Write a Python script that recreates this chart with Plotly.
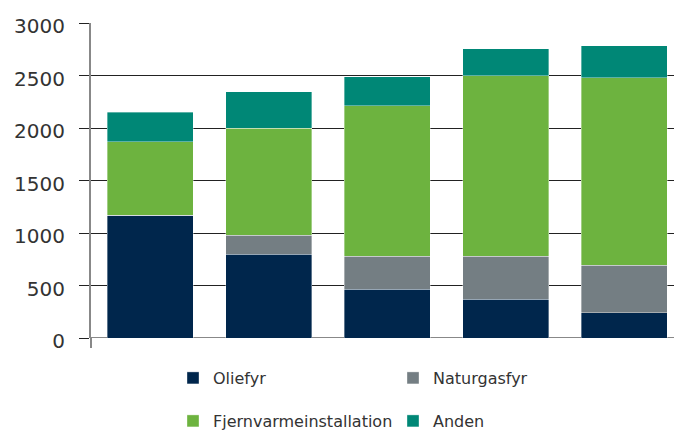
import plotly.graph_objects as go

categories = ["A", "B", "C", "D", "E"]
oliefyr = [1170, 800, 465, 370, 240]
naturgasfyr = [0, 180, 315, 410, 455]
fjernvarme = [700, 1020, 1430, 1720, 1785]
anden = [280, 345, 280, 255, 305]
yticks = [0, 500, 1000, 1500, 2000, 2500, 3000]

series = [
    ("Oliefyr", oliefyr, "#00264c", "legend"),
    ("Naturgasfyr", naturgasfyr, "#747e83", "legend2"),
    ("Fjernvarmeinstallation", fjernvarme, "#6db33f", "legend3"),
    ("Anden", anden, "#008776", "legend4"),
]

fig = go.Figure()
for name, vals, col, lg in series:
    fig.add_trace(go.Bar(
        x=categories, y=vals, name=name, legend=lg,
        marker=dict(color=col, line=dict(color="rgba(255,255,255,0.6)", width=0.6)),
    ))

font_family = "DejaVu Sans"
legfont = dict(family=font_family, size=16, color="#333333")
leg_common = dict(xanchor="left", yanchor="middle",
                  font=legfont, bgcolor="rgba(0,0,0,0)")

PL, PW, PB, PH = 91, 583, 338, 315
def px(x):
    return (x - PL) / PW
def py(y):
    return (PB - y) / PH

fig.update_layout(
    width=674, height=430,
    margin=dict(l=91, r=0, t=23, b=92, autoexpand=False),
    paper_bgcolor="white", plot_bgcolor="white",
    barmode="stack", bargap=0.274,
    showlegend=True,
    legend=dict(x=px(173), y=py(378), **leg_common),
    legend2=dict(x=px(393), y=py(378), **leg_common),
    legend3=dict(x=px(173), y=py(421), **leg_common),
    legend4=dict(x=px(393), y=py(421), **leg_common),
    xaxis=dict(type="category", range=[-0.5, 4.42], showticklabels=False, showgrid=False,
               zeroline=False, showline=False, ticks=""),
    yaxis=dict(range=[0, 3000], tickvals=yticks, showgrid=True, gridcolor="#222222",
               gridwidth=1, zeroline=False, showline=True, linecolor="#888888", linewidth=2,
               ticks="outside", ticklen=10, tickcolor="#222222", tickwidth=1,
               ticklabelstandoff=10, ticklabelshift=3,
               tickfont=dict(family=font_family, size=20, color="#333333")),
    shapes=[
        dict(type="line", xref="paper", yref="paper", x0=0, x1=0, y0=0, y1=-10/315,
             line=dict(color="#888888", width=2)),
        dict(type="line", xref="paper", yref="y", x0=0, x1=1, y0=0, y1=0,
             line=dict(color="#888888", width=2), layer="below"),
    ],
)

fig.write_html("out.html")
